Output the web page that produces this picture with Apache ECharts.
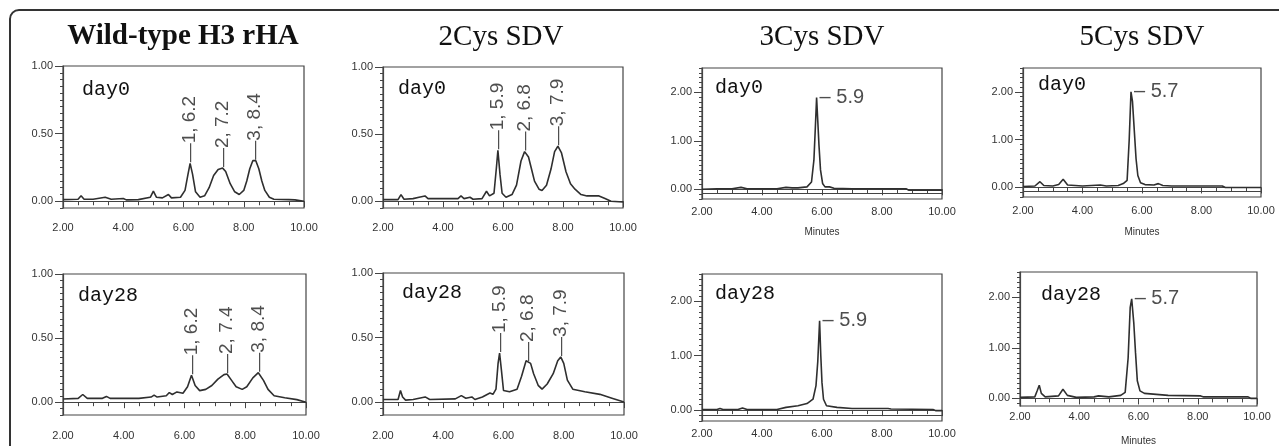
<!DOCTYPE html>
<html>
<head>
<meta charset="utf-8">
<script src="https://cdn.jsdelivr.net/npm/echarts@6/dist/echarts.min.js"></script>
<style>
  html, body { margin: 0; padding: 0; background: #fff; }
  #main { width: 1279px; height: 446px; }
</style>
</head>
<body>
<div id="main"></div>
<script>
var chartDom = document.getElementById('main');
var myChart = echarts.init(chartDom);
var option;

// chromatogram traces: [retention time (min), absorbance (AU)]
var wtDay0 = [[2.0,0.012],[2.5,0.015],[2.6,0.04],[2.7,0.015],[3.0,0.015],[3.4,0.03],[3.6,0.015],[4.0,0.02],[4.1,0.01],[4.5,0.012],[4.9,0.03],[5.0,0.075],[5.1,0.03],[5.3,0.025],[5.5,0.05],[5.6,0.025],[5.9,0.03],[6.05,0.08],[6.15,0.2],[6.22,0.28],[6.3,0.2],[6.4,0.07],[6.55,0.03],[6.7,0.04],[6.85,0.1],[7.0,0.19],[7.15,0.235],[7.3,0.245],[7.4,0.22],[7.55,0.13],[7.7,0.07],[7.85,0.05],[8.0,0.08],[8.1,0.15],[8.2,0.24],[8.3,0.3],[8.4,0.3],[8.5,0.24],[8.6,0.15],[8.7,0.08],[8.85,0.03],[9.0,0.015],[9.5,0.012],[9.7,0.01],[10.0,0.0]];
var cys2Day0 = [[2.0,0.012],[2.5,0.012],[2.6,0.05],[2.7,0.015],[3.0,0.02],[3.2,0.03],[3.4,0.04],[3.5,0.02],[4.0,0.02],[4.5,0.02],[4.6,0.04],[4.7,0.02],[4.9,0.03],[5.0,0.015],[5.3,0.02],[5.45,0.075],[5.55,0.04],[5.7,0.06],[5.78,0.25],[5.83,0.38],[5.9,0.2],[5.97,0.06],[6.1,0.03],[6.3,0.05],[6.45,0.12],[6.6,0.3],[6.72,0.37],[6.85,0.33],[6.95,0.24],[7.05,0.15],[7.2,0.09],[7.3,0.08],[7.45,0.12],[7.6,0.24],[7.72,0.37],[7.83,0.41],[7.95,0.36],[8.1,0.22],[8.25,0.13],[8.4,0.09],[8.6,0.05],[8.8,0.04],[9.2,0.04],[9.4,0.02],[9.6,0.0],[10.0,-0.005]];
var cys3Day0 = [[2.0,0.0],[2.5,0.01],[3.0,0.01],[3.3,0.04],[3.5,0.01],[4.5,0.01],[4.8,0.04],[5.0,0.03],[5.2,0.03],[5.5,0.05],[5.65,0.15],[5.73,0.6],[5.78,1.3],[5.82,1.89],[5.86,1.4],[5.9,0.9],[5.95,0.4],[6.02,0.12],[6.1,0.05],[6.25,0.05],[6.4,0.02],[7.0,0.01],[8.0,0.01],[8.8,0.01],[8.9,-0.02],[10.0,-0.02]];
var cys5Day0 = [[2.0,0.02],[2.4,0.03],[2.57,0.12],[2.7,0.04],[3.0,0.03],[3.2,0.06],[3.35,0.17],[3.5,0.05],[4.0,0.03],[4.6,0.05],[4.8,0.03],[5.2,0.04],[5.37,0.08],[5.5,0.15],[5.57,1.0],[5.63,2.0],[5.68,1.8],[5.74,1.2],[5.8,0.6],[5.86,0.25],[5.95,0.1],[6.1,0.06],[6.4,0.05],[6.55,0.08],[6.7,0.04],[7.0,0.03],[8.0,0.03],[8.7,0.03],[8.8,0.0],[10.0,0.0]];
var wtDay28 = [[2.0,0.025],[2.5,0.03],[2.65,0.06],[2.8,0.03],[3.3,0.03],[3.43,0.045],[3.55,0.03],[4.5,0.03],[4.9,0.04],[5.0,0.055],[5.1,0.04],[5.4,0.05],[5.5,0.075],[5.6,0.06],[5.75,0.08],[5.95,0.07],[6.1,0.12],[6.23,0.21],[6.35,0.13],[6.5,0.09],[6.7,0.1],[6.9,0.13],[7.1,0.18],[7.3,0.215],[7.4,0.22],[7.55,0.17],[7.7,0.12],[7.9,0.1],[8.05,0.12],[8.25,0.19],[8.43,0.23],[8.6,0.17],[8.75,0.1],[8.95,0.05],[9.3,0.035],[9.7,0.02],[10.0,0.0]];
var cys2Day28 = [[2.0,0.02],[2.5,0.02],[2.58,0.09],[2.65,0.04],[2.75,0.015],[3.0,0.02],[3.4,0.04],[3.55,0.02],[4.4,0.025],[4.6,0.05],[4.75,0.03],[4.95,0.04],[5.05,0.02],[5.3,0.04],[5.55,0.07],[5.65,0.06],[5.75,0.1],[5.82,0.3],[5.87,0.38],[5.93,0.25],[6.0,0.09],[6.2,0.08],[6.45,0.1],[6.6,0.2],[6.75,0.32],[6.9,0.3],[7.0,0.22],[7.15,0.13],[7.28,0.1],[7.45,0.14],[7.65,0.22],[7.8,0.32],[7.9,0.35],[8.0,0.3],[8.12,0.17],[8.3,0.1],[8.7,0.08],[9.2,0.06],[9.6,0.03],[10.0,0.0]];
var cys3Day28 = [[2.0,0.01],[2.5,0.01],[2.6,0.03],[2.7,0.01],[3.2,0.01],[3.35,0.04],[3.5,0.01],[4.5,0.01],[4.8,0.05],[5.2,0.08],[5.5,0.12],[5.7,0.2],[5.8,0.45],[5.86,0.9],[5.92,1.64],[5.96,1.0],[6.0,0.5],[6.05,0.2],[6.15,0.08],[6.5,0.05],[7.0,0.03],[8.2,0.03],[8.3,0.02],[9.7,0.01],[9.8,-0.01],[10.0,-0.01]];
var cys5Day28 = [[2.0,0.02],[2.5,0.03],[2.58,0.15],[2.65,0.26],[2.72,0.1],[2.85,0.03],[3.3,0.05],[3.45,0.18],[3.6,0.06],[3.9,0.02],[4.5,0.03],[4.65,0.05],[5.0,0.03],[5.4,0.06],[5.55,0.12],[5.65,0.8],[5.72,1.8],[5.77,1.97],[5.84,1.5],[5.9,0.9],[5.96,0.35],[6.05,0.15],[6.2,0.1],[6.6,0.08],[7.0,0.06],[8.1,0.05],[8.2,0.03],[9.7,0.03],[9.8,0.0],[10.0,0.0]];

// peak apex [time, height, label]
var wtDay0Peaks = [[6.22, 0.28, '1, 6.2'], [7.3, 0.245, '2, 7.2'], [8.35, 0.3, '3, 8.4']];
var cys2Day0Peaks = [[5.83, 0.38, '1, 5.9'], [6.72, 0.37, '2, 6.8'], [7.83, 0.41, '3, 7.9']];
var cys3Day0Peaks = [[5.82, 1.89, '5.9']];
var cys5Day0Peaks = [[5.63, 2.0, '5.7']];
var wtDay28Peaks = [[6.23, 0.21, '1, 6.2'], [7.4, 0.22, '2, 7.4'], [8.43, 0.23, '3, 8.4']];
var cys2Day28Peaks = [[5.87, 0.38, '1, 5.9'], [6.8, 0.31, '2, 6.8'], [7.9, 0.35, '3, 7.9']];
var cys3Day28Peaks = [[5.92, 1.64, '5.9']];
var cys5Day28Peaks = [[5.77, 1.97, '5.7']];

var panelTitles = ['Wild-type H3 rHA', '2Cys SDV', '3Cys SDV', '5Cys SDV'];
var dayNames = ['day0', 'day28'];
var xTicks = [2, 4, 6, 8, 10];
var yTicksLow = [0, 0.5, 1];
var yTicksHigh = [0, 1, 2];
var lowerTrace = [null, null, -0.09, -0.09, null, null, -0.09, null];

var traces = [wtDay0, cys2Day0, cys3Day0, cys5Day0, wtDay28, cys2Day28, cys3Day28, cys5Day28];
var peaks = [wtDay0Peaks, cys2Day0Peaks, cys3Day0Peaks, cys5Day0Peaks, wtDay28Peaks, cys2Day28Peaks, cys3Day28Peaks, cys5Day28Peaks];

// pixel layout of each panel
var layout = [
  { box: [63, 66, 241, 142], y: [-0.05, 1], minor: 0.05, xMargin: 14, day: [82, 90] },
  { box: [383, 67, 240, 141], y: [-0.05, 1], minor: 0.05, xMargin: 14, day: [398, 89] },
  { box: [702, 68, 240, 131], y: [-0.2, 2.5], minor: 0.1, xMargin: 7, day: [715, 88], minutes: 28 },
  { box: [1023, 68, 238, 129], y: [-0.2, 2.5], minor: 0.1, xMargin: 8, day: [1038, 85], minutes: 30 },
  { box: [63, 274, 243, 141], y: [-0.1, 1], minor: 0.05, xMargin: 15, day: [78, 296] },
  { box: [383, 273, 241, 142], y: [-0.1, 1], minor: 0.05, xMargin: 15, day: [402, 293] },
  { box: [702, 274, 240, 147], y: [-0.2, 2.5], minor: 0.1, xMargin: 7, day: [715, 294], minutes: 28 },
  { box: [1020, 272, 237, 134], y: [-0.15, 2.5], minor: 0.1, xMargin: 5, day: [1041, 295], minutes: 30 }
];
var titleCenters = [183, 501, 822, 1142];

var ink = '#333';
var tickFont = 'Liberation Sans';

var grids = [], xAxes = [], yAxes = [], series = [];
var graphics = [{
  type: 'rect', silent: true,
  shape: { x: 10, y: 10, width: 1320, height: 500, r: 9 },
  style: { fill: 'none', stroke: '#333', lineWidth: 2 }
}];

panelTitles.forEach(function (t, c) {
  graphics.push({
    type: 'text', x: titleCenters[c], y: 37, silent: true,
    style: {
      text: t, fill: '#111', align: 'center', verticalAlign: 'middle',
      font: (c === 0 ? 'bold ' : '') + '29px "Liberation Serif", serif'
    }
  });
});

layout.forEach(function (p, i) {
  var wide = p.y[1] > 2;
  var majors = wide ? yTicksHigh : yTicksLow;
  var minors = [];
  for (var v = Math.ceil(p.y[0] / p.minor - 1e-9) * p.minor; v <= p.y[1] + 1e-9; v += p.minor) {
    var r = Math.round(v * 1000) / 1000;
    if (majors.indexOf(r) < 0) minors.push(r);
  }
  var g = 2 * i;
  var box = { left: p.box[0], top: p.box[1], width: p.box[2], height: p.box[3], outerBoundsMode: 'none' };

  // main grid with frame
  grids.push(Object.assign({ show: true, borderColor: '#444', borderWidth: 1.2, backgroundColor: 'transparent' }, box));
  // twin grid carrying only minor y ticks
  grids.push(Object.assign({ show: false }, box));

  xAxes.push({
    type: 'value', gridIndex: g,
    min: xTicks[0], max: xTicks[xTicks.length - 1], interval: xTicks[1] - xTicks[0],
    axisLine: { lineStyle: { color: '#444', width: 1.2 } },
    axisTick: { length: 6, lineStyle: { color: '#444' } },
    minorTick: { show: true, splitNumber: 4, length: 4, lineStyle: { color: '#444' } },
    splitLine: { show: false },
    axisLabel: {
      margin: p.xMargin, fontSize: 11, color: ink, fontFamily: tickFont,
      showMinLabel: true, showMaxLabel: true,
      formatter: function (v) { return v.toFixed(2); }
    },
    name: p.minutes ? 'Minutes' : '',
    nameLocation: 'middle', nameGap: p.minutes || 0,
    nameTextStyle: { fontSize: 10, color: ink, fontFamily: tickFont }
  });
  xAxes.push({ type: 'value', gridIndex: g + 1, min: 2, max: 10, show: false });

  yAxes.push({
    type: 'value', gridIndex: g, min: p.y[0], max: p.y[1],
    axisLine: { show: true, lineStyle: { color: '#444', width: 1.2 } },
    axisTick: { show: true, length: 8, customValues: majors, lineStyle: { color: '#444' } },
    splitLine: { show: false },
    axisLabel: {
      customValues: majors, margin: 10, fontSize: 11, color: ink, fontFamily: tickFont,
      formatter: function (v) { return v.toFixed(2); }
    }
  });
  yAxes.push({
    type: 'value', gridIndex: g + 1, min: p.y[0], max: p.y[1],
    axisLine: { show: false },
    axisLabel: { show: false },
    splitLine: { show: false },
    axisTick: { show: true, length: 3, customValues: minors, lineStyle: { color: '#444' } }
  });

  var line = {
    type: 'line', xAxisIndex: g, yAxisIndex: g,
    data: traces[i], showSymbol: false, symbol: 'none', silent: true,
    lineStyle: { color: '#2f2f2f', width: 1.6 }
  };
  if (lowerTrace[i] !== null) {
    line.markLine = {
      silent: true, symbol: 'none', label: { show: false },
      lineStyle: { color: '#444', width: 1.2, type: 'solid' },
      data: [{ yAxis: lowerTrace[i] }]
    };
  }
  series.push(line);

  series.push({
    type: 'scatter', xAxisIndex: g, yAxisIndex: g, symbolSize: 0, silent: true,
    data: peaks[i].map(function (pk) { return { name: pk[2], value: [pk[0], pk[1]] }; }),
    label: wide ? {
      show: true, position: 'right', distance: 3, formatter: '\u2013 {b}',
      fontSize: 20, color: '#222', fontFamily: tickFont
    } : {
      show: true, position: 'top', distance: 1, rotate: 90,
      align: 'left', verticalAlign: 'middle', formatter: '\u2014{b}',
      fontSize: 19, color: '#222', fontFamily: tickFont
    }
  });

  graphics.push({
    type: 'text', x: p.day[0], y: p.day[1], silent: true,
    style: {
      text: dayNames[i < 4 ? 0 : 1], fill: '#111', align: 'left', verticalAlign: 'middle',
      font: '20px "Liberation Mono", monospace'
    }
  });
});

option = {
  backgroundColor: '#fff',
  animation: false,
  grid: grids,
  xAxis: xAxes,
  yAxis: yAxes,
  series: series,
  graphic: graphics
};

if (chartDom && myChart) {
  myChart.setOption(option);
} else {
  console.error('Failed to initialize the chart');
}
</script>
</body>
</html>
